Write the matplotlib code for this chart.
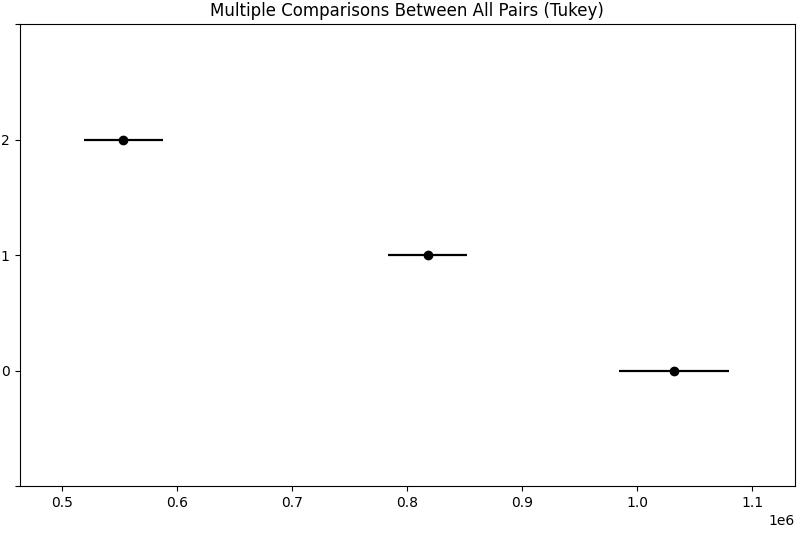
import numpy as np
import matplotlib
matplotlib.use("Agg")
import matplotlib.pyplot as plt

# group labels and Tukey simultaneous intervals (values in units of 1e6)
groups = ["0", "1", "2"]
means = [1.0322e6, 0.8184e6, 0.5533e6]
lower = [0.9841e6, 0.7836e6, 0.5191e6]
upper = [1.0797e6, 0.8518e6, 0.5875e6]
x_range = (0.4631e6, 1.1371e6)


def main():
    fig = plt.figure(figsize=(8.06, 5.33), dpi=100)
    ax = fig.add_axes([0.0242, 0.0875, 0.9622, 0.8675])

    m = np.asarray(means)
    lo = np.asarray(lower)
    hi = np.asarray(upper)
    ypos = np.arange(len(groups))
    err = np.vstack([m - lo, hi - m])
    ax.errorbar(m, ypos, xerr=err, fmt='o', color='k', ecolor='k',
                markersize=6, elinewidth=1.6, capsize=0)

    ax.set_xlim(*x_range)
    ax.set_ylim(-1, len(groups))
    ax.set_yticks(np.arange(-1, len(groups) + 1))
    ax.set_yticklabels([''] + groups + [''])
    ax.set_title("Multiple Comparisons Between All Pairs (Tukey)")

    fig.savefig("out.png", dpi=100)


if __name__ == '__main__':
    main()
